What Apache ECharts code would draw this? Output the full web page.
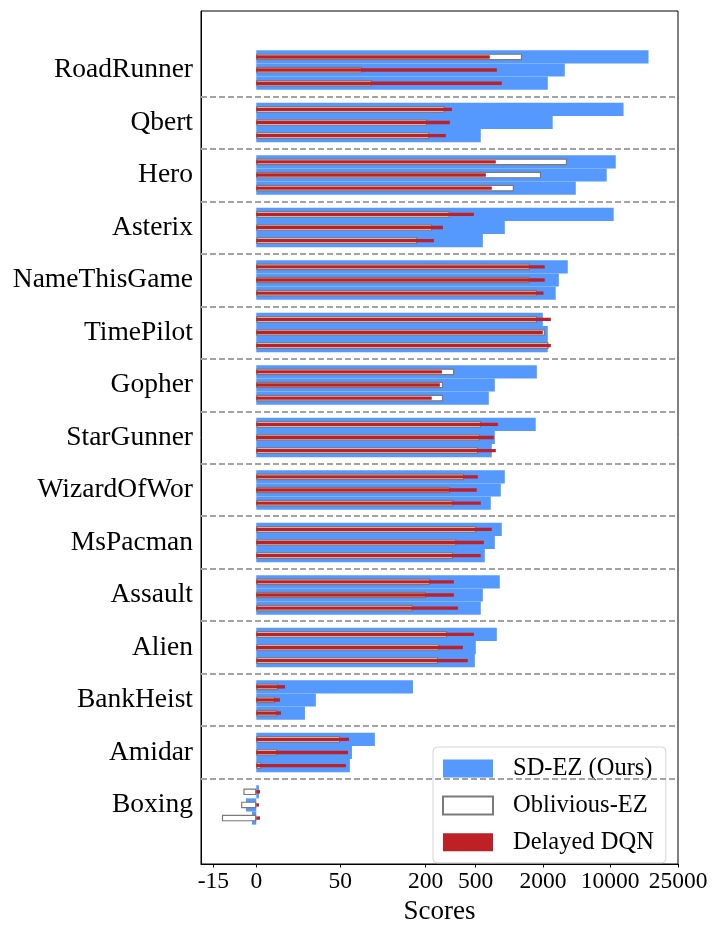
<!DOCTYPE html>
<html>
<head>
<meta charset="utf-8">
<script src="https://cdn.jsdelivr.net/npm/echarts@6/dist/echarts.min.js"></script>
<style>
  html, body { margin: 0; padding: 0; background: #fff; }
  #chart { width: 720px; height: 936px; }
</style>
</head>
<body>
<div id="chart"></div>
<script>
// games from top to bottom, each with three runs (rows)
const games = [
  'RoadRunner', 'Qbert', 'Hero', 'Asterix', 'NameThisGame', 'TimePilot', 'Gopher',
  'StarGunner', 'WizardOfWor', 'MsPacman', 'Assault', 'Alien', 'BankHeist', 'Amidar', 'Boxing'
]

const sdEz = [
  [16800, 3370, 2240], [12000, 2520, 557], [10800, 9240, 4390], [10500, 912, 581],
  [3620, 2920, 2710], [1990, 2240, 2240], [1760, 743, 657], [1720, 743, 698],
  [912, 840, 684], [857, 743, 605], [823, 581, 557], [774, 503, 494],
  [163, 35.5, 29], [87.8, 60.5, 58.5], [1.6, -3.6, -1.5]
]

const obliviousEz = [
  [1300, 71.5, 84], [284, 206, 214], [3560, 1920, 1100], [312, 226, 174.5],
  [1530, 1530, 1770], [1770, 2100, 2280], [338, 276, 276], [561, 549, 527],
  [406, 314, 332], [506, 352, 332], [218, 202, 163.5], [297, 257, 252],
  [13.1, 11.3, 12.5], [50, 12.5, 3], [-4.5, -5.3, -12]
]

const delayedDqn = [
  [670, 774, 857], [324, 312, 290], [758, 618, 698], [485, 275, 233],
  [2080, 2080, 2020], [2410, 1990, 2410], [270, 260, 224], [790, 728, 758],
  [524, 513, 557], [698, 593, 557], [336, 336, 362], [485, 396, 434],
  [17.1, 14.1, 14.7], [57.6, 56.7, 54.8], [2.2, 1.6, 2.2]
]

const tickValues = [-15, 0, 50, 200, 500, 2000, 10000, 25000]
const tickLabels = ['-15', '0', '50', '200', '500', '2000', '10000', '25000']

// the score axis is a custom stretched scale: each tick value sits on a stop
const scaleStops = [-43, 0, 84, 169.4, 219.4, 287, 354, 422]
const AXIS_MIN = -55.3
const AXIS_MAX = 422

const COLORS = {
  sdEz: '#5599ff',
  oblivious: '#ffffff',
  obliviousBorder: '#7a7a7a',
  dqn: '#bf2025',
  separator: '#a3a3a3'
}
const FONT = 'Liberation Serif'

function toScale(v) {
  const n = tickValues.length
  for (let i = 0; i < n - 1; i++) {
    if (v <= tickValues[i + 1] || i === n - 2) {
      const a = tickValues[i]
      const b = tickValues[i + 1]
      const t = a >= 50 ? Math.log(v / a) / Math.log(b / a) : (v - a) / (b - a)
      return scaleStops[i] + t * (scaleStops[i + 1] - scaleStops[i])
    }
  }
}

// 4 slots per game (separator + 3 rows), plus padding slots above and below
const SLOT_COUNT = games.length * 4 + 5
const slotNames = []
for (let k = 0; k < SLOT_COUNT; k++) {
  const g = (k - 4) / 4
  slotNames.push(Number.isInteger(g) && g >= 0 && g < games.length ? games[g] : '_' + k)
}

function buildSlots(values) {
  const out = new Array(SLOT_COUNT).fill('-')
  values.forEach((rows, i) => {
    rows.forEach((v, j) => {
      out[4 * i + 3 + j] = toScale(v)
    })
  })
  return out
}

const separators = []
for (let i = 1; i < games.length; i++) separators.push({ yAxis: 4 * i + 2 })

const chart = echarts.init(document.getElementById('chart'))

const categoryAxis = (show) => ({
  type: 'category',
  data: slotNames,
  inverse: true,
  show: show,
  axisLine: { onZero: false, lineStyle: { color: '#000', width: 1 } },
  axisTick: {
    alignWithLabel: true,
    length: 3.5,
    interval: (idx) => idx >= 2 && idx <= SLOT_COUNT - 4,
    lineStyle: { color: '#000' }
  },
  axisLabel: {
    interval: 0,
    margin: 8,
    padding: [10, 0, 0, 0],
    fontFamily: FONT,
    fontSize: 27.5,
    color: '#000',
    formatter: (v) => (v.charAt(0) === '_' ? '' : v)
  },
  splitLine: { show: false }
})

chart.setOption({
  animation: false,
  backgroundColor: '#fff',
  grid: {
    left: 201,
    right: 42,
    top: 11,
    bottom: 72,
    show: true,
    borderColor: '#000',
    borderWidth: 1
  },
  legend: {
    orient: 'vertical',
    left: 433,
    top: 747,
    itemWidth: 50,
    itemHeight: 18,
    itemGap: 11.9,
    padding: [9, 12, 8, 9],
    backgroundColor: 'rgba(255,255,255,0.8)',
    borderColor: '#d4d4d4',
    borderWidth: 1,
    borderRadius: 4,
    icon: 'rect',
    textStyle: {
      fontFamily: FONT,
      fontSize: 24.5,
      color: '#000',
      padding: [0, 0, 0, 15]
    },
    data: ['SD-EZ (Ours)', 'Oblivious-EZ', 'Delayed DQN']
  },
  xAxis: {
    type: 'value',
    min: AXIS_MIN,
    max: AXIS_MAX,
    name: 'Scores',
    nameLocation: 'middle',
    nameGap: 29,
    nameTextStyle: { fontFamily: FONT, fontSize: 27, color: '#000' },
    axisLine: { show: true, onZero: false, lineStyle: { color: '#000', width: 1 } },
    axisTick: { show: true, length: 3.5, customValues: scaleStops, lineStyle: { color: '#000' } },
    axisLabel: {
      customValues: scaleStops,
      margin: 6,
      fontFamily: FONT,
      fontSize: 23.5,
      color: '#000',
      formatter: (v) => {
        const idx = scaleStops.findIndex((s) => Math.abs(s - v) < 0.01)
        return idx >= 0 ? tickLabels[idx] : ''
      }
    },
    splitLine: { show: false }
  },
  yAxis: [categoryAxis(true), categoryAxis(false), categoryAxis(false)],
  series: [
    {
      name: 'SD-EZ (Ours)',
      type: 'bar',
      yAxisIndex: 0,
      barWidth: '100%',
      itemStyle: { color: COLORS.sdEz },
      data: buildSlots(sdEz),
      markLine: {
        silent: true,
        symbol: 'none',
        label: { show: false },
        lineStyle: { color: COLORS.separator, type: [6, 3], width: 1.8 },
        data: separators
      }
    },
    {
      name: 'Oblivious-EZ',
      type: 'bar',
      yAxisIndex: 1,
      barWidth: 6.6,
      itemStyle: { color: COLORS.oblivious, borderColor: COLORS.obliviousBorder, borderWidth: 1.2 },
      data: buildSlots(obliviousEz)
    },
    {
      name: 'Delayed DQN',
      type: 'bar',
      yAxisIndex: 2,
      barWidth: 3.4,
      itemStyle: { color: COLORS.dqn },
      data: buildSlots(delayedDqn)
    }
  ]
})
</script>
</body>
</html>
